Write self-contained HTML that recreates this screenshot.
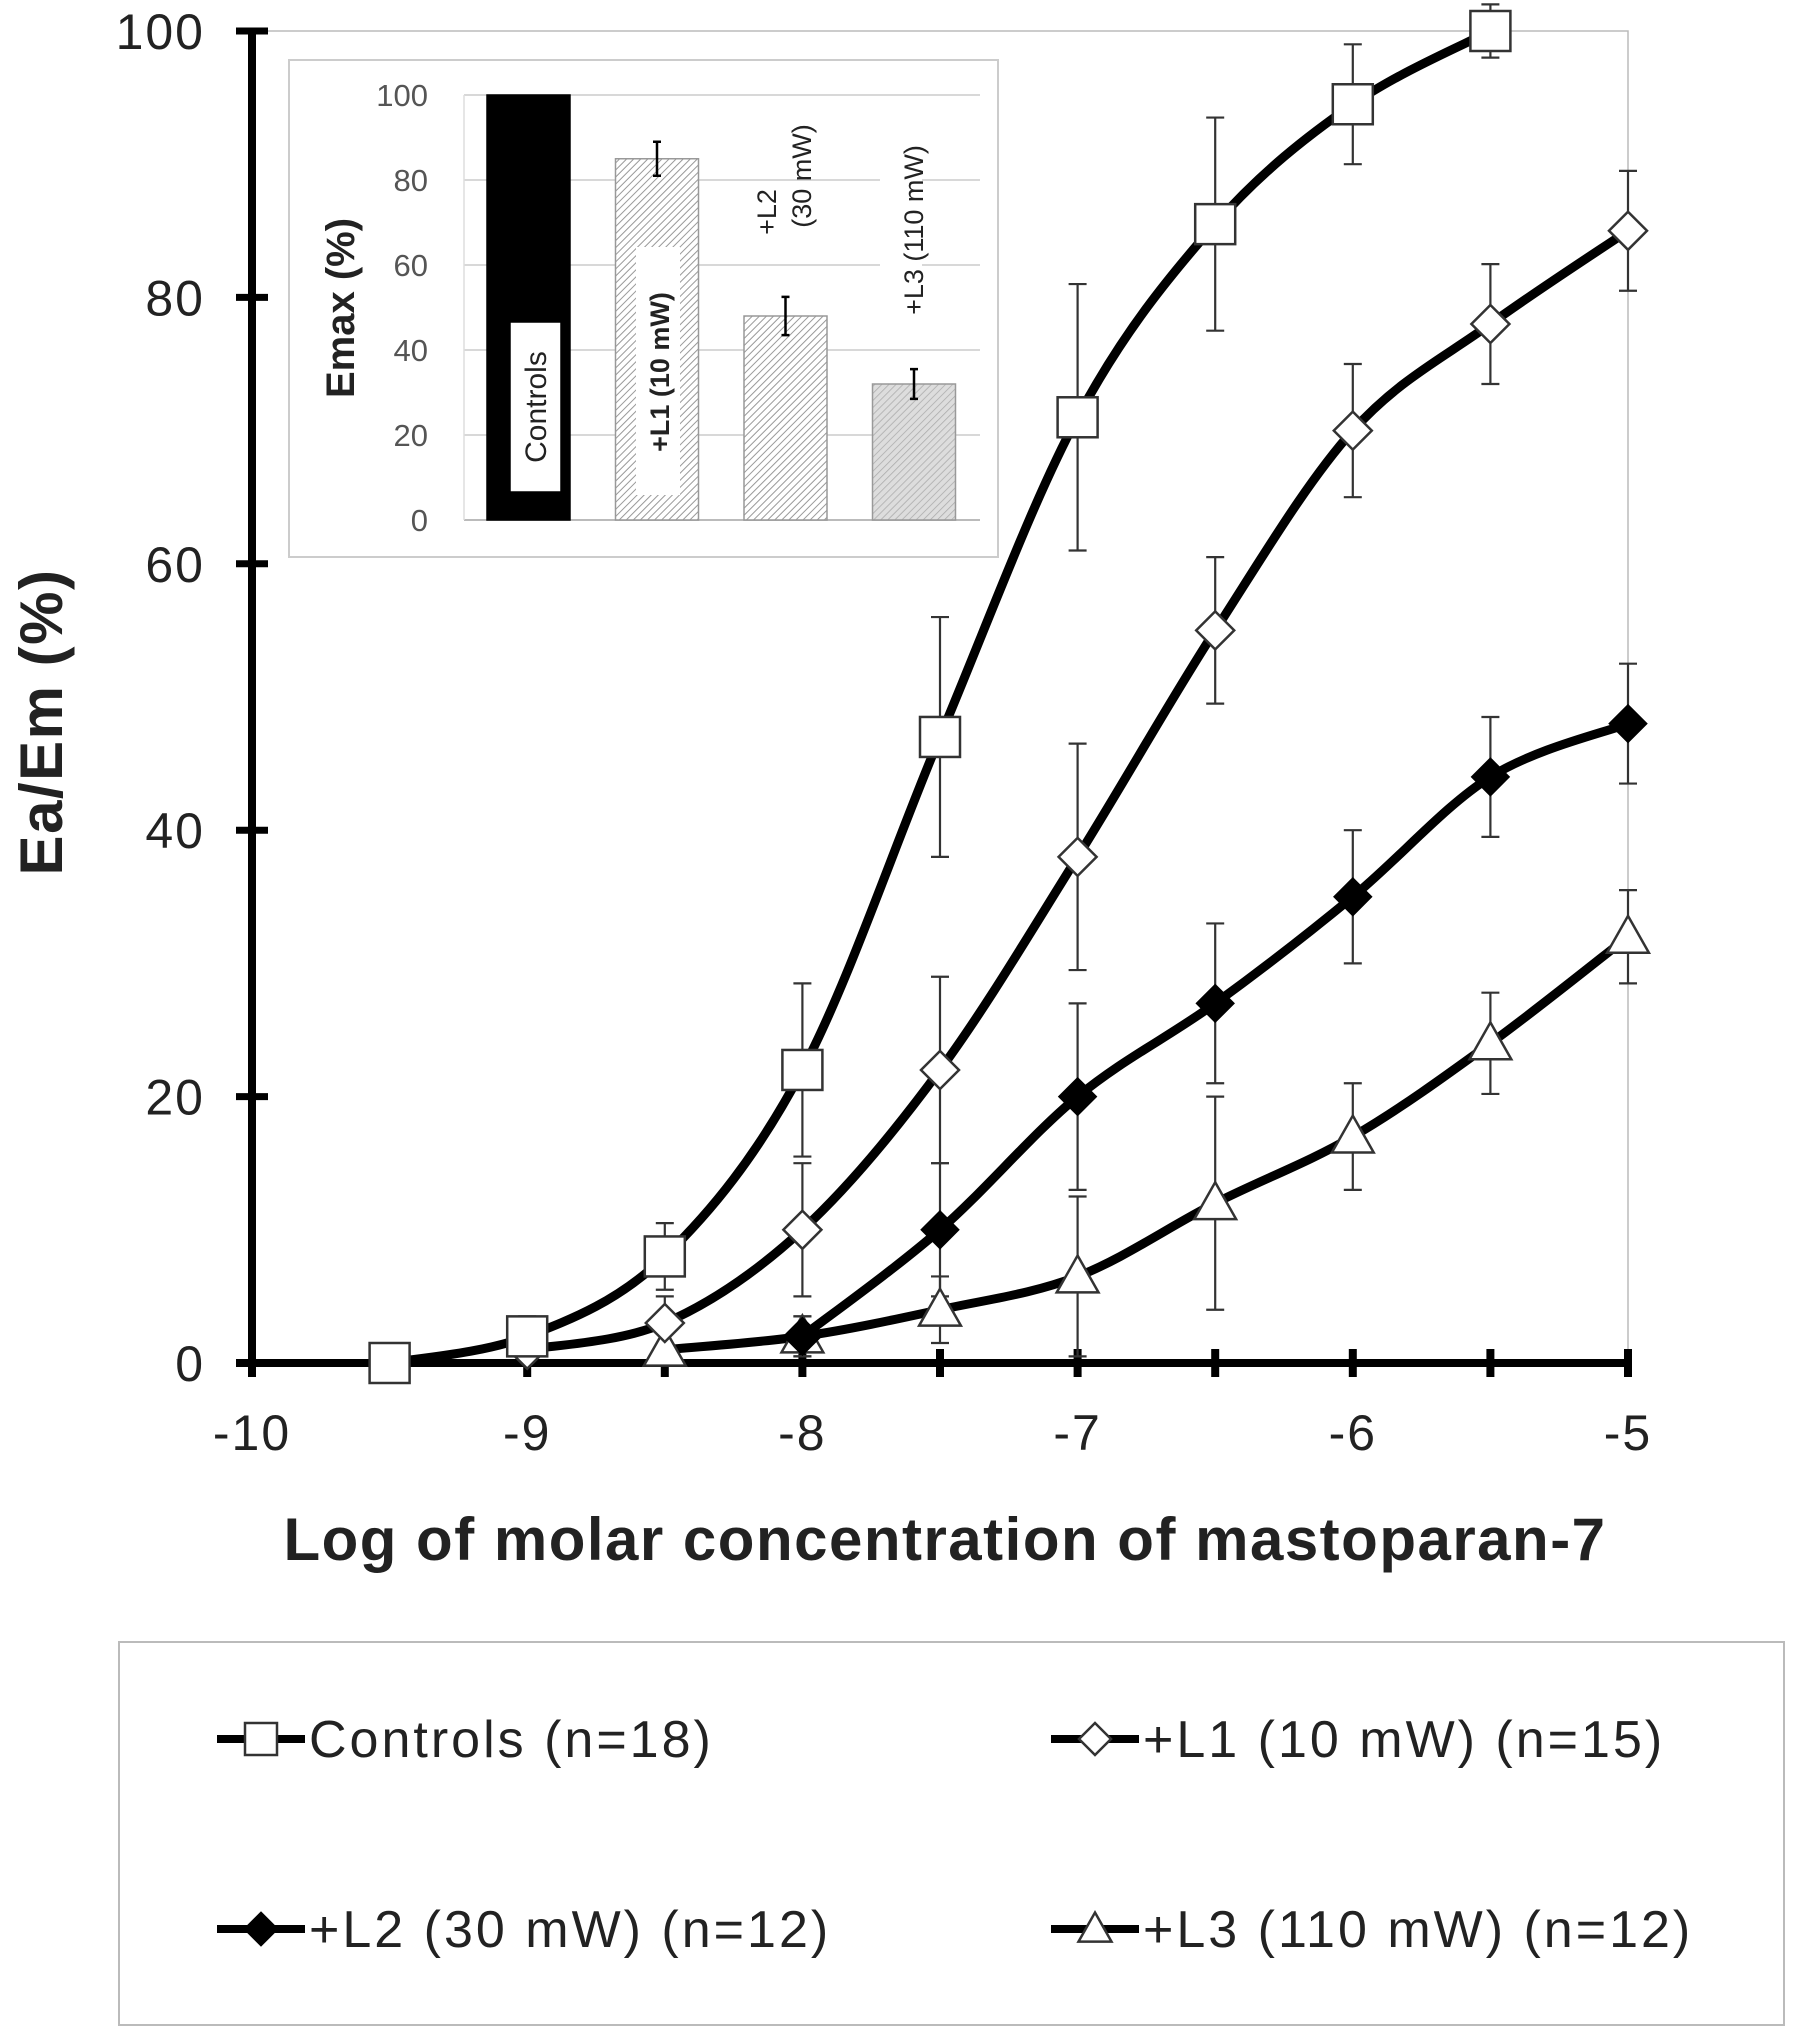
<!DOCTYPE html>
<html><head><meta charset="utf-8"><style>
html,body{margin:0;padding:0;background:#fff;}
svg{display:block;font-family:"Liberation Sans",Arial,sans-serif;}
</style></head><body>
<svg id="chart" width="1795" height="2036" viewBox="0 0 1795 2036" xmlns="http://www.w3.org/2000/svg">
<defs>
<pattern id="hatch1" patternUnits="userSpaceOnUse" width="5" height="5" patternTransform="rotate(45)">
<rect width="5" height="5" fill="#fff"/><line x1="0" y1="0" x2="0" y2="5" stroke="#999" stroke-width="2"/></pattern>
<pattern id="hatch2" patternUnits="userSpaceOnUse" width="5" height="5" patternTransform="rotate(45)">
<rect width="5" height="5" fill="#ddd"/><line x1="0" y1="0" x2="0" y2="5" stroke="#aaa" stroke-width="1.5"/></pattern>
</defs>
<g id="main"></g>
<g id="inset"></g>
<g id="legend"></g>
</svg>
<script>
const xTicks=[-10,-9,-8,-7,-6,-5];
const yTicks=[0,20,40,60,80,100];
const ctrlX=[-9.5,-9,-8.5,-8,-7.5,-7,-6.5,-6,-5.5];
const ctrlY=[0,2,8,22,47,71,85.5,94.5,100];
const ctrlE=[0,1.5,2.5,6.5,9,10,8,4.5,2];
const l1X=[-9,-8.5,-8,-7.5,-7,-6.5,-6,-5.5,-5];
const l1Y=[1,3,10,22,38,55,70,78,85];
const l1E=[0.5,2,5,7,8.5,5.5,5,4.5,4.5];
const l2X=[-8,-7.5,-7,-6.5,-6,-5.5,-5];
const l2Y=[2,10,20,27,35,44,48];
const l2E=[1.5,5,7,6,5,4.5,4.5];
const l3X=[-8.5,-8,-7.5,-7,-6.5,-6,-5.5,-5];
const l3Y=[1,2,4,6.5,12,17,24,32];
const l3E=[0.5,1.5,2.5,6,8,4,3.8,3.5];
const insetCats=["Controls","+L1 (10 mW)","+L2 (30 mW)","+L3 (110 mW)"];
const insetVals=[100,85,48,32];
const insetErr=[0,4,4.5,3.5];
const insetTicks=[0,20,40,60,80,100];

const NS="http://www.w3.org/2000/svg";
function mk(tag,attrs,parent,text){const e=document.createElementNS(NS,tag);for(const k in attrs)e.setAttribute(k,attrs[k]);if(text!==undefined)e.textContent=text;parent.appendChild(e);return e;}
const X=v=>252+(v+10)*275.2;
const Y=v=>1363-v*13.32;
const main=document.getElementById('main');

const pb=mk('rect',{x:X(-10),y:Y(100),width:X(-5)-X(-10),height:Y(0)-Y(100),fill:'none',stroke:'#bbb','stroke-width':1.5},main);



const ya=mk('line',{x1:X(-10),y1:Y(0),x2:X(-10),y2:Y(100),stroke:'#000','stroke-width':8},main);


const xa=mk('line',{x1:X(-10)-16,y1:Y(0),x2:X(-5)+4,y2:Y(0),stroke:'#000','stroke-width':8},main);


yTicks.forEach(t=>{
 mk('line',{x1:X(-10)-16,y1:Y(t),x2:X(-10)+16,y2:Y(t),stroke:'#000','stroke-width':7},main);
 const tl=mk('text',{x:205,y:Y(t)+18,'text-anchor':'end','font-size':50,'letter-spacing':2,fill:'#222'},main,String(t));
 
 
});
for(let v=-10;v<=-5;v+=0.5){mk('line',{x1:X(v),y1:Y(0)-14,x2:X(v),y2:Y(0)+14,stroke:'#000','stroke-width':8},main);}
xTicks.forEach(t=>{
 const tl=mk('text',{x:X(t),y:1450,'text-anchor':'middle','font-size':50,'letter-spacing':2,fill:'#222'},main,String(t));
 
 
});
const xt=mk('text',{x:945,y:1560,'text-anchor':'middle','font-size':60,'letter-spacing':1.5,'font-weight':'bold',fill:'#222'},main,'Log of molar concentration of mastoparan-7');


const yt=mk('text',{x:0,y:0,transform:'translate(62,722) rotate(-90)','text-anchor':'middle','font-size':60,'letter-spacing':1.5,'font-weight':'bold',fill:'#222'},main,'Ea/Em (%)');



function smooth(xs,ys){
 const p=xs.map((x,i)=>[X(x),Y(ys[i])]);
 let d='M'+p[0][0]+','+p[0][1];
 for(let i=0;i<p.length-1;i++){
  const p0=p[Math.max(0,i-1)],p1=p[i],p2=p[i+1],p3=p[Math.min(p.length-1,i+2)];
  const c1=[p1[0]+(p2[0]-p0[0])/6,p1[1]+(p2[1]-p0[1])/6];
  const c2=[p2[0]-(p3[0]-p1[0])/6,p2[1]-(p3[1]-p1[1])/6];
  d+=' C'+c1[0]+','+c1[1]+' '+c2[0]+','+c2[1]+' '+p2[0]+','+p2[1];
 }
 return d;
}
function marker(g,type,cx,cy,s){
 let e;
 if(type==='square')e=mk('rect',{x:cx-s/2,y:cy-s/2,width:s,height:s,fill:'#fff',stroke:'#333','stroke-width':2.5},g);
 else if(type==='diamond'||type==='fdiamond')e=mk('polygon',{points:`${cx},${cy-s/2} ${cx+s/2},${cy} ${cx},${cy+s/2} ${cx-s/2},${cy}`,fill:type==='fdiamond'?'#000':'#fff',stroke:type==='fdiamond'?'#000':'#333','stroke-width':2.5},g);
 else e=mk('polygon',{points:`${cx},${cy-s*0.55} ${cx+s*0.55},${cy+s*0.42} ${cx-s*0.55},${cy+s*0.42}`,fill:'#fff',stroke:'#333','stroke-width':2.5},g);
 return e;
}
const series=[
 {name:'controls',xs:ctrlX,ys:ctrlY,es:ctrlE,m:'square',s:40},
 {name:'l1',xs:l1X,ys:l1Y,es:l1E,m:'diamond',s:38},
 {name:'l2',xs:l2X,ys:l2Y,es:l2E,m:'fdiamond',s:36},
 {name:'l3',xs:l3X,ys:l3Y,es:l3E,m:'tri',s:38}
];
const eg=mk('g',{},main);
series.forEach(sr=>{
 sr.xs.forEach((x,i)=>{
  if(sr.es[i]<=0.6)return;
  const cx=X(x),y1=Y(sr.ys[i]+sr.es[i]),y2=Y(sr.ys[i]-sr.es[i]);
  const e=mk('path',{d:`M${cx},${y1}V${y2}M${cx-9},${y1}H${cx+9}M${cx-9},${y2}H${cx+9}`,stroke:'#333','stroke-width':2.2,fill:'none'},eg);
  
  
 });
});
series.slice().reverse().forEach(sr=>{
 const g=mk('g',{},main);
 
 
 const ln=mk('path',{d:smooth(sr.xs,sr.ys),stroke:'#000','stroke-width':9,fill:'none'},g);
 
 
 sr.xs.forEach((x,i)=>{
  const m=marker(g,sr.m,X(x),Y(sr.ys[i]),sr.s);
  
  
 });
});

// inset
const ins=document.getElementById('inset');
const ib=mk('rect',{x:289,y:60,width:709,height:497,fill:'#fff',stroke:'#ccc','stroke-width':2},ins);


const IY=v=>520-v*4.25;
const ix0=464,ix1=980;
insetTicks.forEach(t=>{
 if(t>0)mk('line',{x1:ix0,y1:IY(t),x2:ix1,y2:IY(t),stroke:'#ccc','stroke-width':1.5},ins);
 const tl=mk('text',{x:428,y:IY(t)+11,'text-anchor':'end','font-size':31,fill:'#555'},ins,String(t));
 
 
});
mk('line',{x1:ix0,y1:IY(0),x2:ix1,y2:IY(0),stroke:'#bbb','stroke-width':2},ins);
mk('line',{x1:ix0,y1:IY(0),x2:ix0,y2:IY(100),stroke:'#ddd','stroke-width':1.5},ins);
const it=mk('text',{x:0,y:0,transform:'translate(354,308) rotate(-90)','text-anchor':'middle','font-size':40,'font-weight':'bold',fill:'#222'},ins,'Emax (%)');


const fills=['#000','url(#hatch1)','url(#hatch1)','url(#hatch2)'];
const bw=83,step=128.5,bx0=487;
insetCats.forEach((c,i)=>{
 const x=bx0+i*step;
 const b=mk('rect',{x:x,y:IY(insetVals[i]),width:bw,height:IY(0)-IY(insetVals[i]),fill:fills[i],stroke:i?'#999':'#000','stroke-width':1.5},ins);
 
 
 if(insetErr[i]>0){
  const cx=x+bw/2,y1=IY(insetVals[i]+insetErr[i]),y2=IY(insetVals[i]-insetErr[i]);
  const e=mk('path',{d:`M${cx},${y1}V${y2}M${cx-4},${y1}H${cx+4}M${cx-4},${y2}H${cx+4}`,stroke:'#000','stroke-width':2.5,fill:'none'},ins);
  
  
 }
});
mk('rect',{x:510,y:322,width:51,height:170,fill:'#fff',stroke:'#000','stroke-width':1.5},ins);
const lc=mk('text',{x:0,y:0,transform:'translate(546,407) rotate(-90)','text-anchor':'middle','font-size':30,fill:'#222'},ins,insetCats[0]);

mk('rect',{x:636,y:247,width:44,height:248,fill:'#fff'},ins);
const l1=mk('text',{x:0,y:0,transform:'translate(669,372) rotate(-90)','text-anchor':'middle','font-size':27,'font-weight':'bold',fill:'#222'},ins,insetCats[1]);

const l2a=mk('text',{x:0,y:0,transform:'translate(776,212) rotate(-90)','text-anchor':'middle','font-size':27,fill:'#222'},ins,'+L2');

const l2b=mk('text',{x:0,y:0,transform:'translate(811,176) rotate(-90)','text-anchor':'middle','font-size':27,fill:'#222'},ins,'(30 mW)');

mk('rect',{x:880,y:118,width:42,height:225,fill:'#fff'},ins);
const l3=mk('text',{x:0,y:0,transform:'translate(923,230) rotate(-90)','text-anchor':'middle','font-size':27,fill:'#222'},ins,insetCats[3]);


// legend
const lg=document.getElementById('legend');
const lb=mk('rect',{x:119,y:1642,width:1665,height:383,fill:'#fff',stroke:'#bbb','stroke-width':2},lg);


const entries=[
 ['Controls (n=18)',217,1739,'square',32],
 ['+L1 (10 mW) (n=15)',1051,1739,'diamond',32],
 ['+L2 (30 mW) (n=12)',217,1929,'fdiamond',32],
 ['+L3 (110 mW) (n=12)',1051,1929,'tri',30]
];
entries.forEach(en=>{
 const g=mk('g',{},lg);
 
 
 mk('line',{x1:en[1],y1:en[2],x2:en[1]+88,y2:en[2],stroke:'#000','stroke-width':8},g);
 marker(g,en[3],en[1]+44,en[2],en[4]);
 mk('text',{x:en[1]+92,y:en[2]+18,'font-size':52,'letter-spacing':3,fill:'#222'},g,en[0]);
});
</script>
</body></html>
